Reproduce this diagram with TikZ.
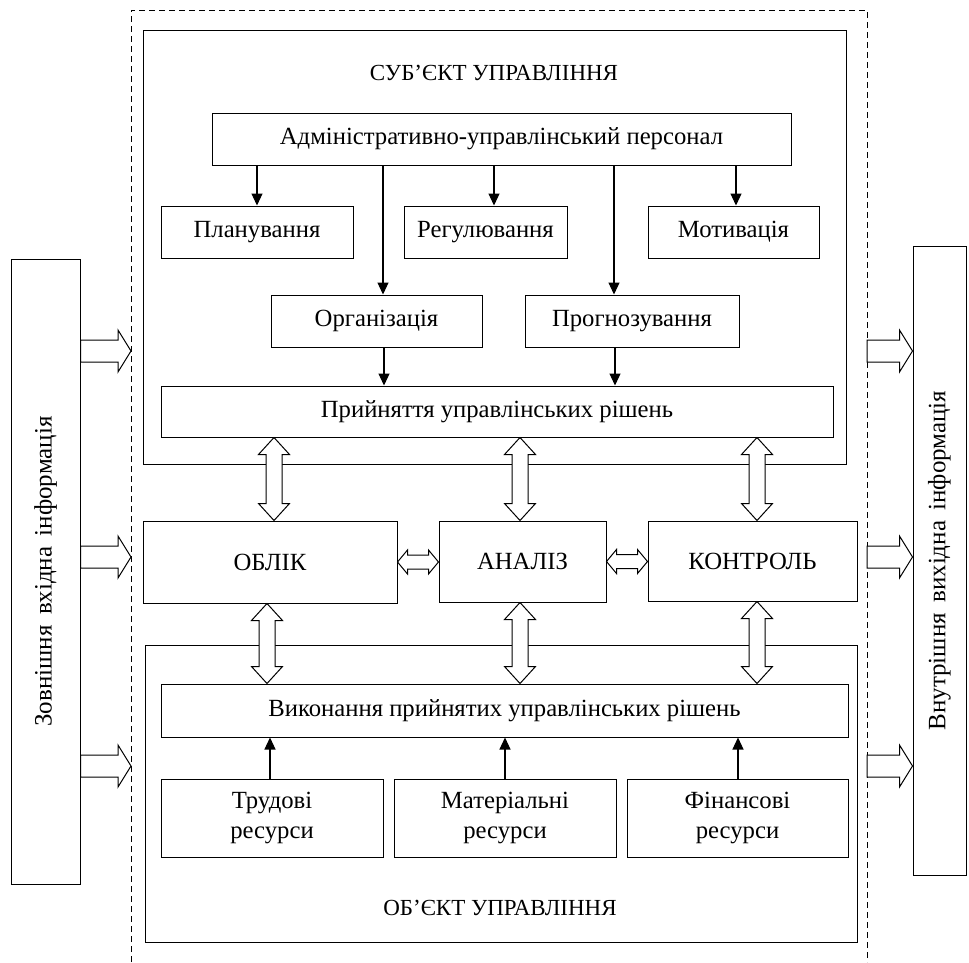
\documentclass[tikz,border=0pt]{standalone}
\usepackage{fontspec}
\setmainfont{Liberation Serif}
\usetikzlibrary{arrows.meta,calc}
\tikzset{
  box/.style={draw, line width=1pt, inner sep=0pt, align=center, font=\fontsize{24.7}{30}\selectfont},
  lbl/.style={inner sep=0pt, font=\fontsize{23}{28}\selectfont},
  vlbl/.style={inner sep=0pt, rotate=90, font=\fontsize{25}{30}\selectfont},
  arr/.style={line width=1.2pt, -{Triangle[width=11pt,length=12pt]}},
  blk/.style={draw, line width=1pt, fill=white, line join=miter},
  dashline/.style={line width=1pt, dash pattern=on 6pt off 4pt},
}
\newcommand{\rarr}[2]{\draw[blk] let \p1=(#1), \p2=(#2) in
  (\x1,\y1+11pt) -- (\x2-13pt,\y1+11pt) -- (\x2-13pt,\y1+21pt) -- (\x2,\y1)
  -- (\x2-13pt,\y1-21pt) -- (\x2-13pt,\y1-11pt) -- (\x1,\y1-11pt) -- cycle;}
\newcommand{\vdar}[2]{\draw[blk] let \p1=(#1), \p2=(#2) in
  (\x1,\y1) -- (\x1+15.5pt,\y1-17pt) -- (\x1+8pt,\y1-17pt) -- (\x1+8pt,\y2+17pt)
  -- (\x1+15.5pt,\y2+17pt) -- (\x1,\y2) -- (\x1-15.5pt,\y2+17pt) -- (\x1-8pt,\y2+17pt)
  -- (\x1-8pt,\y1-17pt) -- (\x1-15.5pt,\y1-17pt) -- cycle;}
\newcommand{\hdar}[2]{\draw[blk] let \p1=(#1), \p2=(#2) in
  (\x1,\y1) -- (\x1+10pt,\y1+12pt) -- (\x1+10pt,\y1+7pt) -- (\x2-10pt,\y1+7pt)
  -- (\x2-10pt,\y1+12pt) -- (\x2,\y1) -- (\x2-10pt,\y1-12pt) -- (\x2-10pt,\y1-7pt)
  -- (\x1+10pt,\y1-7pt) -- (\x1+10pt,\y1-12pt) -- cycle;}
\begin{document}
\begin{tikzpicture}[x=1pt,y=-1pt]
\useasboundingbox (0,0) rectangle (969,962);
% dashed frame
\coordinate (dtl) at (131,10);
\coordinate (dtr) at (867,10);
\coordinate (dbl) at (131,962);
\coordinate (dbr) at (867,962);
\draw[dashline] (dbl) -- (dtl) -- (dtr) -- (dbr);
% outer boxes
\node[box, minimum width=703pt, minimum height=434pt] (subj) at (494.5,247) {};
\node[lbl] (subjt) at (494,73) {СУБ’ЄКТ УПРАВЛІННЯ};
\node[box, minimum width=712pt, minimum height=297pt] (obj) at (501,793.5) {};
\node[lbl] (objt) at (500,908) {ОБ’ЄКТ УПРАВЛІННЯ};
% side boxes
\node[box, minimum width=69pt, minimum height=625pt] (inbox) at (45.5,571.5) {};
\node[vlbl] (intext) at (inbox.center) {Зовнішня\, вхідна\, інформація};
\node[box, minimum width=53pt, minimum height=629pt] (outbox) at (939.5,560.5) {};
\node[vlbl] (outtext) at (outbox.center) {Внутрішня\, вихідна\, інформація};
% subject boxes
\node[box, minimum width=579pt, minimum height=52pt] (adm) at (501.5,139) {Адміністративно-управлінський персонал};
\node[box, minimum width=192pt, minimum height=52pt] (plan) at (257,232) {Планування};
\node[box, minimum width=163pt, minimum height=52pt] (reg) at (485.5,232) {Регулювання};
\node[box, minimum width=171pt, minimum height=52pt] (mot) at (733.5,232) {Мотивація};
\node[box, minimum width=211pt, minimum height=52pt] (org) at (376.5,321) {Організація};
\node[box, minimum width=214pt, minimum height=52pt] (prog) at (632,321) {Прогнозування};
\node[box, minimum width=672pt, minimum height=51pt] (prij) at (497,411.5) {Прийняття управлінських рішень};
% middle boxes
\node[box, minimum width=254pt, minimum height=82pt] (oblik) at (270,562) {ОБЛІК};
\node[box, minimum width=167pt, minimum height=81pt] (analiz) at (522.5,561.5) {АНАЛІЗ};
\node[box, minimum width=209pt, minimum height=80pt] (kontr) at (752.5,561) {КОНТРОЛЬ};
% object boxes
\node[box, minimum width=687pt, minimum height=53pt] (vyk) at (504.5,710.5) {Виконання прийнятих управлінських рішень};
\node[box, minimum width=222pt, minimum height=78pt] (trud) at (272,818) {Трудові\\ресурси};
\node[box, minimum width=222pt, minimum height=78pt] (mat) at (505,818) {Матеріальні\\ресурси};
\node[box, minimum width=221pt, minimum height=78pt] (fin) at (737.5,818) {Фінансові\\ресурси};
% thin arrows
\draw[arr] (257,0 |- adm.south) -- (257,0 |- plan.north);
\draw[arr] (494,0 |- adm.south) -- (494,0 |- reg.north);
\draw[arr] (736,0 |- adm.south) -- (736,0 |- mot.north);
\draw[arr] (383,0 |- adm.south) -- (383,0 |- org.north);
\draw[arr] (614,0 |- adm.south) -- (614,0 |- prog.north);
\draw[arr] (384,0 |- org.south) -- (384,0 |- prij.north);
\draw[arr] (615,0 |- prog.south) -- (615,0 |- prij.north);
\draw[arr] (270,0 |- trud.north) -- (270,0 |- vyk.south);
\draw[arr] (505,0 |- mat.north) -- (505,0 |- vyk.south);
\draw[arr] (738,0 |- fin.north) -- (738,0 |- vyk.south);
% block double arrows
\vdar{274,0 |- prij.south}{274,0 |- oblik.north}
\vdar{520,0 |- prij.south}{520,0 |- analiz.north}
\vdar{757,0 |- prij.south}{757,0 |- kontr.north}
\vdar{267,0 |- oblik.south}{267,0 |- vyk.north}
\vdar{520,0 |- analiz.south}{520,0 |- vyk.north}
\vdar{757,0 |- kontr.south}{757,0 |- vyk.north}
\hdar{oblik.east}{analiz.west}
\hdar{analiz.east}{kontr.west}
% side arrows
\rarr{inbox.east |- 0,351}{dtl |- 0,351}
\rarr{inbox.east |- 0,557}{dtl |- 0,557}
\rarr{inbox.east |- 0,766}{dtl |- 0,766}
\rarr{dtr |- 0,351}{outbox.west |- 0,351}
\rarr{dtr |- 0,557}{outbox.west |- 0,557}
\rarr{dtr |- 0,766}{outbox.west |- 0,766}
\end{tikzpicture}
\end{document}
